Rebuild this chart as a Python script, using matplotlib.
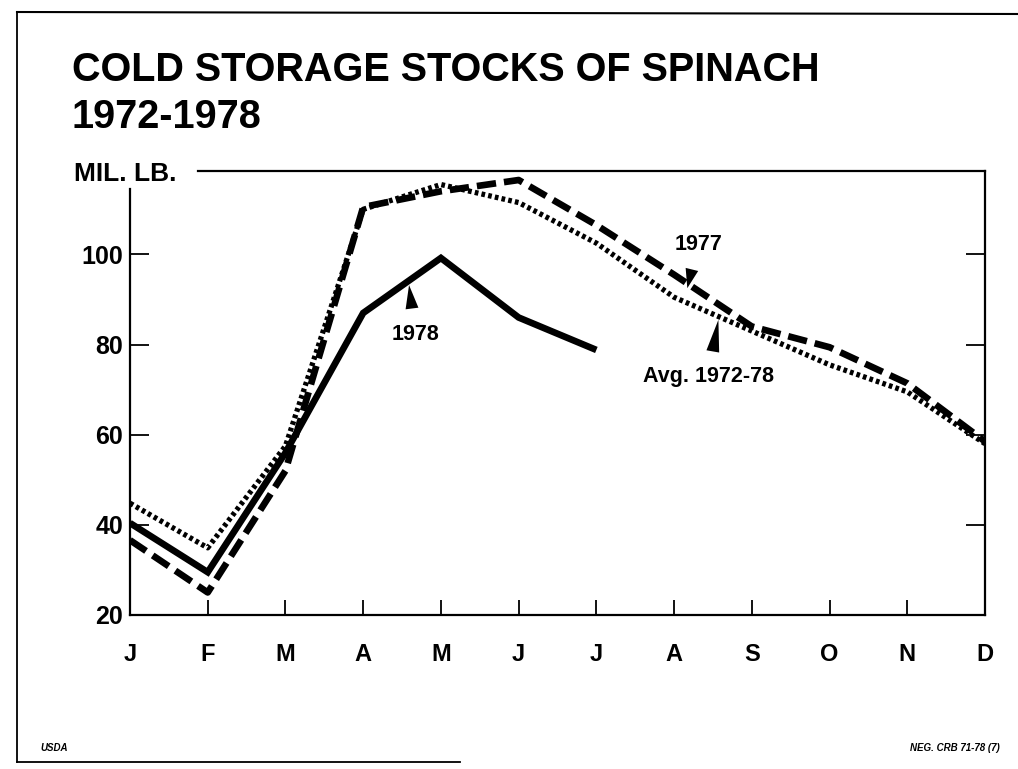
import matplotlib
matplotlib.use("Agg")
import matplotlib.pyplot as plt
from matplotlib.lines import Line2D

months = ["J", "F", "M", "A", "M", "J", "J", "A", "S", "O", "N", "D"]
avg_1972_78 = [44.8, 34.9, 57.5, 110.0, 115.5, 111.5, 102.5, 90.5, 83.0, 75.5, 69.5, 58.0]
stocks_1977 = [36.6, 25.0, 52.0, 110.5, 114.0, 116.5, 106.5, 95.5, 84.0, 79.4, 71.4, 58.5]
stocks_1978 = [40.4, 29.5, 56.0, 87.0, 99.2, 86.0, 78.8]
yticks = [20, 40, 60, 80, 100]

W, H = 1018, 769
fig = plt.figure(figsize=(W / 100, H / 100), dpi=100)
fig.patch.set_facecolor("white")

FONT = ["Liberation Sans", "DejaVu Sans"]
plt.rcParams["font.family"] = FONT

ax = fig.add_axes([130 / W, 1 - 615 / H, 855 / W, (615 - 171) / H])
x = list(range(len(months)))

ax.plot(x, avg_1972_78, color="black", lw=3.8, linestyle=(0, (0.7, 0.6)),
        dash_capstyle="butt", solid_joinstyle="miter")
ax.plot(x, stocks_1977, color="black", lw=4.8, linestyle=(0, (2.9, 1.2)),
        dash_capstyle="butt")
ax.plot(x[:len(stocks_1978)], stocks_1978, color="black", lw=4.8,
        solid_joinstyle="miter", solid_capstyle="butt")

ax.set_xlim(0, 11)
ax.set_ylim(20, 118.5)

ax.set_xticks(x)
ax.set_xticklabels(months, fontsize=17, fontweight="bold")
ax.set_yticks(yticks)
ax.set_yticklabels([str(v) for v in yticks], fontsize=18, fontweight="bold")
ax.tick_params(axis="x", direction="in", length=11, width=1.3, pad=20)
ax.tick_params(axis="y", direction="in", length=14, width=1.3, pad=5,
               right=True)

for s in ["left", "right", "bottom"]:
    ax.spines[s].set_linewidth(1.6)
ax.spines["top"].set_visible(False)
ax.spines["left"].set_bounds(20, 114.5)
ax.add_line(Line2D([(198 - 130) / 855, 1], [1, 1], transform=ax.transAxes,
                   color="black", lw=1.6, clip_on=False))

wedge = dict(arrowstyle="wedge,tail_width=0.6,shrink_factor=0.5",
             color="black", lw=0)
ax.annotate("1978", xy=(3.59, 93.2), xytext=(3.67, 82.3), ha="center",
            va="center", fontsize=15.5, fontweight="bold",
            arrowprops=dict(wedge, shrinkA=9, shrinkB=0))
ax.annotate("1977", xy=(7.17, 92.5), xytext=(7.31, 102.3), ha="center",
            va="center", fontsize=15.5, fontweight="bold",
            arrowprops=dict(wedge, shrinkA=9, shrinkB=0))
ax.annotate("Avg. 1972-78", xy=(7.57, 85.5), xytext=(7.44, 72.8), ha="center",
            va="center", fontsize=15.5, fontweight="bold",
            arrowprops=dict(wedge, shrinkA=9, shrinkB=0))

fig.text(72 / W, 1 - 70 / H, "COLD STORAGE STOCKS OF SPINACH", fontsize=28.5,
         fontweight="bold", ha="left", va="center")
fig.text(72 / W, 1 - 117 / H, "1972-1978", fontsize=28.5, fontweight="bold",
         ha="left", va="center")
fig.text(74 / W, 1 - 174 / H, "MIL. LB.", fontsize=19, fontweight="bold",
         ha="left", va="center")
fig.text(40 / W, 1 - 748 / H, "USDA", fontsize=7, fontweight="bold",
         style="italic", ha="left", va="center")
fig.text(1000 / W, 1 - 748 / H, "NEG. CRB 71-78 (7)", fontsize=7,
         fontweight="bold", style="italic", ha="right", va="center")

# page frame
fig.add_artist(Line2D([17 / W, 17 / W], [1 - 12 / H, 1 - 762 / H],
                      transform=fig.transFigure, color="black", lw=1.3))
fig.add_artist(Line2D([17 / W, 1], [1 - 12 / H, 1 - 14 / H],
                      transform=fig.transFigure, color="black", lw=1.5))
fig.add_artist(Line2D([17 / W, 460 / W], [1 - 762 / H, 1 - 762 / H],
                      transform=fig.transFigure, color="black", lw=1.3))

fig.savefig("out.png", dpi=100, facecolor="white")
